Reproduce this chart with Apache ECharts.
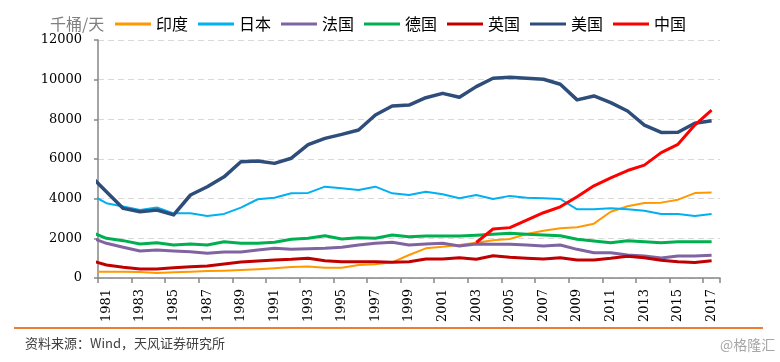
<!DOCTYPE html>
<html>
<head>
<meta charset="utf-8">
<script src="https://cdn.jsdelivr.net/npm/echarts@6/dist/echarts.min.js"></script>
<style>
html,body{margin:0;padding:0;background:#fff;}
#main{width:780px;height:362px;}
</style>
</head>
<body>
<div id="main"></div>
<script>
var years = [1980,1981,1982,1983,1984,1985,1986,1987,1988,1989,1990,1991,1992,1993,1994,1995,1996,1997,1998,1999,2000,2001,2002,2003,2004,2005,2006,2007,2008,2009,2010,2011,2012,2013,2014,2015,2016,2017];
var axisYears = ['1981','1982','1983','1984','1985','1986','1987','1988','1989','1990','1991','1992','1993','1994','1995','1996','1997','1998','1999','2000','2001','2002','2003','2004','2005','2006','2007','2008','2009','2010','2011','2012','2013','2014','2015','2016','2017'];

var india   = [320,320,320,300,255,285,320,350,370,400,437,487,555,585,521,521,655,689,790,1160,1496,1580,1664,1782,1900,1970,2218,2386,2504,2555,2740,3340,3620,3780,3800,3950,4280,4310];
var japan   = [4240,3770,3600,3430,3560,3260,3260,3130,3230,3550,3970,4050,4270,4290,4605,4521,4437,4605,4269,4185,4353,4218,4017,4185,3983,4140,4050,4017,3983,3462,3462,3513,3462,3395,3227,3227,3126,3227];
var france  = [2060,1748,1547,1361,1412,1361,1328,1244,1311,1311,1412,1496,1445,1470,1496,1546,1664,1748,1798,1664,1714,1748,1613,1714,1697,1705,1664,1613,1664,1445,1277,1277,1160,1109,1010,1109,1109,1143];
var germany = [2350,2000,1883,1714,1782,1664,1714,1664,1832,1748,1748,1798,1950,2000,2134,1966,2034,2000,2168,2084,2118,2118,2118,2151,2201,2252,2201,2168,2134,1950,1866,1782,1883,1832,1782,1832,1832,1832];
var uk      = [905,655,538,454,454,521,571,605,706,807,857,908,941,1000,874,824,824,824,790,824,958,958,1025,941,1126,1042,992,958,1025,908,908,992,1100,1025,900,820,780,874];
var usa     = [5200,4350,3510,3340,3430,3180,4185,4600,5100,5860,5900,5780,6040,6720,7040,7240,7460,8220,8670,8720,9090,9310,9110,9650,10070,10120,10070,10020,9770,8980,9180,8840,8420,7710,7340,7350,7800,7930];
var china   = [null,null,null,null,null,null,null,null,null,null,null,null,null,null,null,null,null,null,null,null,null,null,null,1790,2470,2540,2920,3290,3590,4100,4650,5050,5420,5690,6320,6740,7710,8470];

var yTicks = [0,2000,4000,6000,8000,10000,12000];

var names  = ['印度','日本','法国','德国','英国','美国','中国'];
var seriesValues = [india, japan, france, germany, uk, usa, china];
var colors = ['#FF9900','#00B0F0','#8064A2','#00B050','#C00000','#2E4D7B','#FF0000'];
var widths = [2,2,3,3,3,3.5,3];

var SERIF = 'DejaVu Serif';

function pairs(vals){
  return years.map(function(y,i){ return [y, vals[i]]; });
}

var chart = echarts.init(document.getElementById('main'));
var series = names.map(function(n,i){
  return {
    name: n, type: 'line', xAxisIndex: 1, yAxisIndex: 0,
    data: pairs(seriesValues[i]), symbol: 'none', showSymbol: false,
    connectNulls: false, clip: true,
    lineStyle: {color: colors[i], width: widths[i], join: 'round'},
    itemStyle: {color: colors[i]},
    emphasis: {disabled: true}
  };
});

chart.setOption({
  animation: false,
  backgroundColor: '#ffffff',
  color: colors,
  grid: {left: 98, right: 60, top: 40, bottom: 84, containLabel: false},
  legend: {
    data: names, left: 115, top: 16, padding: 0, icon: 'rect', itemWidth: 36, itemHeight: 3,
    itemGap: 10,
    textStyle: {fontFamily: 'Noto Sans CJK SC', fontSize: 16, color: '#000'},
    itemStyle: {borderWidth: 0}
  },
  xAxis: [{
    type: 'category', data: axisYears, boundaryGap: true,
    axisLine: {show: true, lineStyle: {color: '#868686', width: 1.5}},
    axisTick: {show: true, interval: 1, length: 5, lineStyle: {color: '#868686', width: 1.5}},
    axisLabel: {interval: 1, rotate: 90, margin: 11, fontFamily: SERIF, fontSize: 13, color: '#000'},
    splitLine: {show: false}
  },{
    type: 'value', min: 1980.5, max: 2017.5, show: false,
    splitLine: {show: false}
  }],
  yAxis: [{
    type: 'value', min: yTicks[0], max: yTicks[yTicks.length-1], interval: 2000,
    axisLine: {show: true, lineStyle: {color: '#868686', width: 1.5}},
    axisTick: {show: true, length: 4, lineStyle: {color: '#868686', width: 1.5}},
    axisLabel: {margin: 16, fontFamily: SERIF, fontSize: 13, color: '#000',
      formatter: function(v){ return '{s|' + String(v) + '}'; },
      rich: {s: {fontFamily: SERIF, fontSize: 13, color: '#000'}}},
    splitLine: {show: true, lineStyle: {color: '#D9D9D9', type: [6,4], width: 1}}
  }],
  graphic: [
    {type: 'text', left: 50, top: 16, style: {text: '千桶/天', fill: '#7F7F7F', font: '16px "Noto Sans CJK SC"'}},
    {type: 'line', shape: {x1: 14, y1: 328, x2: 763, y2: 328}, style: {stroke: '#ED7D31', lineWidth: 2}},
    {type: 'text', left: 25, top: 337, style: {text: '资料来源：Wind，天风证券研究所', fill: '#404040', font: '13px "Noto Sans CJK SC"'}},
    {type: 'text', left: 720, top: 338, style: {text: '@格隆汇', fill: '#A6A6A6', font: '14px "Noto Sans CJK SC"'}}
  ],
  series: series
});
</script>
</body>
</html>
